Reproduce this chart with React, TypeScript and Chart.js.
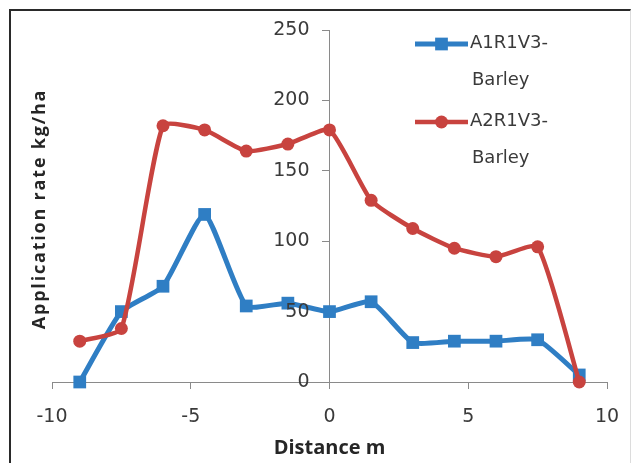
import React, { useEffect, useRef } from 'react';
import { Chart, registerables } from 'chart.js';

Chart.register(...registerables);

// ---- data ----
const distances = [-9, -7.5, -6, -4.5, -3, -1.5, 0, 1.5, 3, 4.5, 6, 7.5, 9];
const seriesA1R1V3 = [0, 50, 68, 119, 54, 56, 50, 57, 28, 29, 29, 30, 5];
const seriesA2R1V3 = [29, 38, 182, 179, 164, 169, 179, 129, 109, 95, 89, 96, 0];
const seriesLabels = [
  ['A1R1V3-', 'Barley'],
  ['A2R1V3-', 'Barley'],
];
const xRange = [-10, 10];
const xStep = 5;
const yRange = [0, 250];
const yStep = 50;
const xTitle = 'Distance m';
const yTitle = 'Application rate kg/ha';

const BLUE = '#2f7ec4';
const RED = '#c8433f';
const AXIS = '#8a8a8a';
const TEXT = '#3a3a3a';
const TICK_LEN = 7;

const yTitlePlugin = {
  id: 'yTitlePlugin',
  afterDraw(chart: any) {
    const { ctx, chartArea } = chart;
    ctx.save();
    ctx.translate(29, (chartArea.top + chartArea.bottom) / 2 + 3);
    ctx.rotate(-Math.PI / 2);
    ctx.font = 'bold 18px "Open Sans"';
    (ctx as any).letterSpacing = '1.8px';
    ctx.fillStyle = '#262626';
    ctx.textAlign = 'center';
    ctx.textBaseline = 'middle';
    ctx.fillText(yTitle, 0, 0);
    ctx.restore();
  },
};

// y tick labels, taken from the y scale, right-aligned left of the crossing axis
const yLabelsPlugin = {
  id: 'yLabelsPlugin',
  afterDraw(chart: any) {
    const { ctx } = chart;
    const xs = chart.scales.x;
    const ys = chart.scales.y;
    const axisX = xs.getPixelForValue(0);
    ctx.save();
    ctx.font = '19px "DejaVu Sans"';
    ctx.fillStyle = TEXT;
    ctx.textAlign = 'right';
    ctx.textBaseline = 'middle';
    ys.ticks.forEach((t: any) => {
      ctx.fillText(String(t.value), axisX - TICK_LEN - 13, ys.getPixelForValue(t.value));
    });
    ctx.restore();
  },
};

const legendPlugin = {
  id: 'customLegend',
  afterDraw(chart: any) {
    const { ctx } = chart;
    const datasets = chart.data.datasets;
    ctx.save();
    datasets.forEach((ds: any, i: number) => {
      const yLine = 33 + i * 78;
      const x0 = 404;
      const x1 = 457;
      const xm = (x0 + x1) / 2;
      ctx.strokeStyle = ds.borderColor;
      ctx.lineWidth = ds.borderWidth;
      ctx.beginPath();
      ctx.moveTo(x0, yLine);
      ctx.lineTo(x1, yLine);
      ctx.stroke();
      ctx.fillStyle = ds.pointBackgroundColor;
      ctx.beginPath();
      if (ds.pointStyle === 'rect') {
        const s = ds.pointRadius * Math.SQRT1_2;
        ctx.rect(xm - s, yLine - s, 2 * s, 2 * s);
      } else {
        ctx.arc(xm, yLine, ds.pointRadius, 0, Math.PI * 2);
      }
      ctx.fill();
      ctx.fillStyle = TEXT;
      ctx.font = '18px "DejaVu Sans"';
      ctx.textAlign = 'left';
      ctx.textBaseline = 'alphabetic';
      const lines: string[] = seriesLabels[i];
      lines.forEach((t, j) => {
        ctx.fillText(t, 459 + (j > 0 ? 2 : 0), yLine + 4 + j * 37);
      });
    });
    ctx.restore();
  },
};

export default function App() {
  const canvasRef = useRef<HTMLCanvasElement | null>(null);

  useEffect(() => {
    const canvas = canvasRef.current;
    if (!canvas) return;
    const chart = new Chart(canvas, {
      type: 'line',
      data: {
        datasets: [
          {
            label: seriesLabels[0].join(''),
            data: distances.map((x, i) => ({ x, y: seriesA1R1V3[i] })),
            borderColor: BLUE,
            backgroundColor: BLUE,
            pointBackgroundColor: BLUE,
            pointBorderColor: BLUE,
            pointBorderWidth: 0,
            borderWidth: 5,
            pointStyle: 'rect',
            pointRadius: 9,
            tension: 0.17,
            clip: false,
            order: 1,
          } as any,
          {
            label: seriesLabels[1].join(''),
            data: distances.map((x, i) => ({ x, y: seriesA2R1V3[i] })),
            borderColor: RED,
            backgroundColor: RED,
            pointBackgroundColor: RED,
            pointBorderColor: RED,
            pointBorderWidth: 0,
            borderWidth: 4.5,
            pointStyle: 'circle',
            pointRadius: 6.5,
            tension: 0.17,
            clip: false,
            order: 0,
          } as any,
        ],
      },
      options: {
        animation: false,
        responsive: false,
        layout: { padding: { left: 41, right: 23, top: 19, bottom: 3 } },
        plugins: {
          legend: { display: false },
          tooltip: { enabled: false },
        },
        scales: {
          x: {
            type: 'linear',
            position: 'bottom',
            min: xRange[0],
            max: xRange[1],
            ticks: {
              stepSize: xStep,
              font: { family: 'DejaVu Sans', size: 19 },
              color: TEXT,
              padding: 17,
              maxRotation: 0,
            },
            grid: { drawOnChartArea: false, drawTicks: true, tickLength: TICK_LEN, color: AXIS },
            border: { color: AXIS, width: 1 },
            title: {
              display: true,
              text: xTitle,
              font: { family: 'Open Sans', size: 20, weight: 'bold' },
              color: '#262626',
              padding: { top: 6, bottom: 0 },
            },
            afterFit(scale: any) {
              scale.height = 78;
              scale.paddingLeft = 0;
              scale.paddingRight = 0;
            },
          } as any,
          y: {
            type: 'linear',
            position: { x: 0 } as any,
            min: yRange[0],
            max: yRange[1],
            ticks: {
              stepSize: yStep,
              display: false,
            },
            grid: { drawOnChartArea: false, drawTicks: true, tickLength: TICK_LEN, color: AXIS },
            border: { color: AXIS, width: 1 },
          },
        },
      },
      plugins: [yTitlePlugin, yLabelsPlugin, legendPlugin],
    });
    return () => chart.destroy();
  }, []);

  return (
    <div
      style={{
        position: 'fixed',
        left: 9,
        top: 9,
        width: 619,
        height: 454,
        borderTop: '2px solid #2a2a2a',
        borderLeft: '2px solid #2a2a2a',
        borderRight: '1px solid #dcdcdc',
        overflow: 'hidden',
        background: '#fff',
      }}
    >
      <canvas ref={canvasRef} width={619} height={452} style={{ display: 'block' }} />
    </div>
  );
}
